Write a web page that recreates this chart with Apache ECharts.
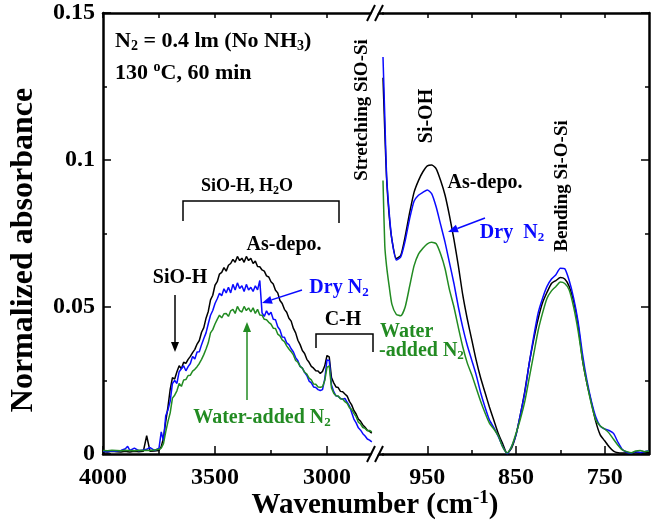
<!DOCTYPE html>
<html>
<head>
<meta charset="utf-8">
<script src="https://cdn.jsdelivr.net/npm/echarts@6/dist/echarts.min.js"></script>
<style>html,body{margin:0;padding:0;background:#fff}#chart{width:651px;height:521px}</style>
</head>
<body>
<div id="chart"></div>
<script>
// left part of the broken axis (high wavenumber)
const waveL = [4000, 3980, 3960, 3940, 3920, 3900, 3890, 3880, 3860, 3840, 3820, 3805, 3790, 3770, 3750,
  3740, 3730, 3720, 3710, 3700, 3690, 3680, 3670, 3660, 3650,
  3640, 3630, 3620, 3610, 3600, 3590, 3580, 3570, 3560, 3550,
  3540, 3530, 3520, 3510, 3500, 3490, 3480, 3470, 3460, 3450,
  3440, 3430, 3420, 3410, 3400, 3390, 3380, 3370, 3360, 3350,
  3340, 3330, 3320, 3310, 3300, 3290, 3280, 3270, 3260, 3250,
  3240, 3230, 3220, 3210, 3200, 3190, 3180, 3170, 3160, 3150,
  3140, 3130, 3120, 3110, 3100, 3090, 3080, 3070, 3060, 3050,
  3040, 3030, 3020, 3010, 3000, 2990, 2980, 2970, 2960, 2950,
  2940, 2930, 2920, 2910, 2900, 2890, 2880, 2870, 2860, 2850,
  2840, 2830, 2820, 2810, 2800];

const asDepoL = [0.0008, 0.0007, 0.0009, 0.0008, 0.0007, 0.0009, 0.0008, 0.0007, 0.0009, 0.0008, 0.0009, 0.0062, 0.0009, 0.0010, 0.0012,
  0.0025, 0.0055, 0.0110, 0.0160, 0.0220, 0.0260, 0.0255, 0.0280, 0.0300, 0.0290,
  0.0312, 0.0308, 0.0322, 0.0332, 0.0345, 0.0356, 0.0374, 0.0386, 0.0414, 0.0430,
  0.0462, 0.0485, 0.0524, 0.0540, 0.0574, 0.0586, 0.0612, 0.0618, 0.0634, 0.0622,
  0.0642, 0.0648, 0.0662, 0.0652, 0.0672, 0.0658, 0.0666, 0.0652, 0.0672, 0.0658,
  0.0666, 0.0648, 0.0656, 0.0638, 0.0637, 0.0626, 0.0622, 0.0606, 0.0602, 0.0586,
  0.0578, 0.0557, 0.0548, 0.0522, 0.0512, 0.0492, 0.0482, 0.0462, 0.0452, 0.0427,
  0.0412, 0.0387, 0.0372, 0.0352, 0.0342, 0.0322, 0.0312, 0.0298, 0.0292, 0.0283,
  0.0282, 0.0274, 0.0281, 0.0300, 0.0335, 0.0330, 0.0260, 0.0242, 0.0228, 0.0226,
  0.0213, 0.0212, 0.0204, 0.0197, 0.0179, 0.0167, 0.0148, 0.0136, 0.0119, 0.0111,
  0.0099, 0.0091, 0.0081, 0.0077, 0.0071];

const dryL = [0.0009, 0.0008, 0.0010, 0.0009, 0.0012, 0.0018, 0.0026, 0.0012, 0.0020, 0.0011, 0.0014, 0.0016, 0.0022, 0.0012, 0.0020,
  0.0075, 0.0045, 0.0130, 0.0150, 0.0180, 0.0240, 0.0250, 0.0240, 0.0280, 0.0290,
  0.0300, 0.0283, 0.0297, 0.0308, 0.0332, 0.0323, 0.0347, 0.0348, 0.0372, 0.0393,
  0.0412, 0.0443, 0.0472, 0.0488, 0.0512, 0.0528, 0.0547, 0.0538, 0.0562, 0.0548,
  0.0567, 0.0548, 0.0577, 0.0558, 0.0582, 0.0563, 0.0572, 0.0553, 0.0577, 0.0558,
  0.0567, 0.0553, 0.0572, 0.0558, 0.0590, 0.0480, 0.0468, 0.0487, 0.0473, 0.0482,
  0.0458, 0.0457, 0.0433, 0.0422, 0.0398, 0.0397, 0.0378, 0.0372, 0.0358, 0.0347,
  0.0328, 0.0317, 0.0298, 0.0292, 0.0278, 0.0267, 0.0248, 0.0242, 0.0228, 0.0226,
  0.0219, 0.0216, 0.0219, 0.0255, 0.0320, 0.0318, 0.0235, 0.0212, 0.0198, 0.0196,
  0.0189, 0.0186, 0.0189, 0.0176, 0.0164, 0.0141, 0.0119, 0.0106, 0.0089, 0.0081,
  0.0069, 0.0061, 0.0051, 0.0047, 0.0041];

const waterL = [0.0012, 0.0011, 0.0013, 0.0012, 0.0011, 0.0013, 0.0012, 0.0012, 0.0011, 0.0013, 0.0012, 0.0013, 0.0012, 0.0014, 0.0016,
  0.0020, 0.0035, 0.0075, 0.0110, 0.0140, 0.0190, 0.0200, 0.0215, 0.0240, 0.0230,
  0.0252, 0.0253, 0.0267, 0.0268, 0.0282, 0.0288, 0.0297, 0.0308, 0.0322, 0.0338,
  0.0357, 0.0378, 0.0412, 0.0423, 0.0442, 0.0458, 0.0472, 0.0463, 0.0477, 0.0478,
  0.0468, 0.0487, 0.0492, 0.0478, 0.0502, 0.0488, 0.0483, 0.0502, 0.0488, 0.0497,
  0.0483, 0.0497, 0.0478, 0.0492, 0.0473, 0.0472, 0.0458, 0.0457, 0.0448, 0.0442,
  0.0428, 0.0427, 0.0408, 0.0402, 0.0388, 0.0382, 0.0368, 0.0357, 0.0348, 0.0337,
  0.0318, 0.0312, 0.0298, 0.0292, 0.0278, 0.0272, 0.0258, 0.0252, 0.0238, 0.0237,
  0.0228, 0.0227, 0.0229, 0.0250, 0.0295, 0.0300, 0.0225, 0.0207, 0.0198, 0.0197,
  0.0188, 0.0187, 0.0178, 0.0172, 0.0158, 0.0152, 0.0138, 0.0127, 0.0108, 0.0102,
  0.0090, 0.0087, 0.0079, 0.0080, 0.0075];

// right part (low wavenumber)
const waveR = [1000, 998, 996, 993, 990,
  985, 980, 975, 970, 965, 960, 955, 950, 945, 940,
  935, 930, 925, 920, 915, 910, 905, 900, 895, 890,
  885, 880, 875, 870, 865, 860, 855, 850, 845, 840,
  835, 830, 825, 820, 815, 810, 805, 800, 795, 790,
  785, 780, 775, 770, 765, 760, 755, 750, 745, 740,
  735, 730, 725, 720, 715, 710, 705, 700];

const asDepoR = [0.128, 0.110, 0.094, 0.081, 0.073,
  0.0665, 0.0675, 0.074, 0.082, 0.089, 0.093, 0.096, 0.098, 0.0983, 0.097,
  0.093, 0.088, 0.081, 0.073, 0.064, 0.054, 0.046, 0.039, 0.032, 0.026,
  0.021, 0.016, 0.0115, 0.007, 0.0035, 0.0002, 0.002, 0.0065, 0.0135, 0.0215,
  0.031, 0.039, 0.046, 0.0515, 0.055, 0.058, 0.059, 0.060, 0.0595, 0.057,
  0.052, 0.044, 0.032, 0.024, 0.0175, 0.011, 0.0065, 0.0045, 0.0025, 0.001,
  0.0004, 0.0003, 0.0004, 0.0003, 0.0004, 0.0003, 0.0004, 0.0004];

const dryR = [0.135, 0.115, 0.095, 0.082, 0.073,
  0.066, 0.067, 0.0725, 0.080, 0.086, 0.088, 0.089, 0.0898, 0.0885, 0.084,
  0.078, 0.072, 0.065, 0.058, 0.050, 0.043, 0.037, 0.032, 0.027, 0.021,
  0.016, 0.0116, 0.009, 0.006, 0.0025, 0.0001, 0.0025, 0.0065, 0.0135, 0.021,
  0.031, 0.040, 0.048, 0.053, 0.057, 0.0595, 0.061, 0.0632, 0.063, 0.059,
  0.053, 0.045, 0.034, 0.025, 0.018, 0.0126, 0.0095, 0.0085, 0.008, 0.007,
  0.004, 0.0015, 0.0006, 0.0003, 0.0008, 0.0005, 0.0008, 0.001];

const waterR = [0.093, 0.071, 0.064, 0.057, 0.051,
  0.0475, 0.047, 0.050, 0.057, 0.064, 0.068, 0.070, 0.0715, 0.072, 0.0715,
  0.068, 0.063, 0.0558, 0.050, 0.043, 0.0364, 0.031, 0.027, 0.0225, 0.018,
  0.014, 0.0105, 0.0085, 0.0062, 0.0024, 0.0003, 0.0025, 0.007, 0.012, 0.018,
  0.026, 0.034, 0.042, 0.048, 0.053, 0.0555, 0.057, 0.0585, 0.058, 0.0558,
  0.050, 0.042, 0.032, 0.024, 0.017, 0.0116, 0.0095, 0.0085, 0.0071, 0.005,
  0.003, 0.0014, 0.0008, 0.0004, 0.001, 0.0012, 0.0008, 0.001];

const majorL = [4000, 3500, 3000];
const minorL = [3750, 3250];
const majorR = [950, 850, 750];
const minorR = [900, 800];

const FONT = 'Liberation Serif';
const BLUE = '#0a0aff';
const GREEN = '#228b22';

function pairs(xs, ys) {
  return xs.map(function (x, i) { return [x, ys[i]]; });
}

function xAx(grid, min, max, pos, ticks, len, opts) {
  opts = opts || {};
  return {
    type: 'value', gridIndex: grid, min: min, max: max, inverse: true, position: pos,
    axisLine: { show: opts.line !== false, lineStyle: { color: '#000', width: 2.5 } },
    axisTick: { show: true, inside: true, length: len, customValues: ticks, lineStyle: { color: '#000', width: 1.5 } },
    axisLabel: opts.labels ? {
      show: true, customValues: ticks, margin: 12, color: '#000',
      fontFamily: FONT, fontWeight: 'bold', fontSize: 24,
      formatter: function (v) { return String(v); }
    } : { show: false },
    splitLine: { show: false }
  };
}

function yAx(grid, pos, labels) {
  return {
    type: 'value', gridIndex: grid, min: 0, max: 0.15, interval: 0.05, position: pos,
    axisLine: { show: true, lineStyle: { color: '#000', width: 2.5 } },
    axisTick: { show: true, inside: true, length: 8, lineStyle: { color: '#000', width: 1.5 } },
    minorTick: { show: true, splitNumber: 2, length: 4, lineStyle: { color: '#000', width: 1.5 } },
    axisLabel: labels ? { show: true, margin: 8, color: '#000', fontFamily: FONT, fontWeight: 'bold', fontSize: 24 } : { show: false },
    splitLine: { show: false },
    minorSplitLine: { show: false }
  };
}

function line(xi, yi, data, color) {
  return {
    type: 'line', xAxisIndex: xi, yAxisIndex: yi, data: data,
    symbol: 'none', smooth: xi === 3 ? 0.2 : false, silent: true,
    lineStyle: { color: color, width: 1.5 }
  };
}

function rich(size, color) {
  return {
    s: { fontFamily: FONT, fontWeight: 'bold', fontSize: Math.round(size * 0.65), fill: color, padding: [Math.round(size * 0.5), 0, 0, 0] },
    p: { fontFamily: FONT, fontWeight: 'bold', fontSize: Math.round(size * 0.65), fill: color, padding: [0, 0, Math.round(size * 0.5), 0] }
  };
}

function txt(x, y, text, size, color, align, rot) {
  color = color || '#000';
  return {
    type: 'text', x: x, y: y, z: 100, rotation: rot || 0,
    style: {
      text: text, fill: color, fontFamily: FONT, fontWeight: 'bold', fontSize: size,
      textAlign: align || 'center', textVerticalAlign: 'middle', rich: rich(size, color)
    }
  };
}

function arrow(x1, y1, x2, y2, color) {
  const a = Math.atan2(y2 - y1, x2 - x1);
  const L = 10, W = 4;
  const bx = x2 - L * Math.cos(a), by = y2 - L * Math.sin(a);
  return [
    { type: 'line', z: 100, shape: { x1: x1, y1: y1, x2: bx, y2: by }, style: { stroke: color, lineWidth: 1.5 } },
    { type: 'polygon', z: 100, shape: { points: [[x2, y2], [bx + W * Math.sin(a), by - W * Math.cos(a)], [bx - W * Math.sin(a), by + W * Math.cos(a)]] }, style: { fill: color } }
  ];
}

function bracket(pts) {
  return { type: 'polyline', z: 100, shape: { points: pts }, style: { stroke: '#000', lineWidth: 1.5, fill: null } };
}

function breakMark(yc) {
  return [
    { type: 'polygon', z: 101, shape: { points: [[368, yc + 8], [376, yc - 8], [382, yc - 8], [374, yc + 8]] }, style: { fill: '#fff' } },
    { type: 'line', z: 102, shape: { x1: 367, y1: yc + 8, x2: 375, y2: yc - 8 }, style: { stroke: '#000', lineWidth: 2 } },
    { type: 'line', z: 102, shape: { x1: 375, y1: yc + 8, x2: 383, y2: yc - 8 }, style: { stroke: '#000', lineWidth: 2 } }
  ];
}

const chart = echarts.init(document.getElementById('chart'));

const graphics = [].concat(
  [
    txt(115, 41, 'N{s|2} = 0.4 lm (No NH{s|3})', 22, '#000', 'left'),
    txt(115, 73, '130 {p|o}C, 60 min', 22, '#000', 'left'),
    txt(247, 186, 'SiO-H, H{s|2}O', 18),
    bracket([[183, 221], [183, 201], [339, 201], [339, 223]]),
    txt(284, 245, 'As-depo.', 20),
    txt(180, 278, 'SiO-H', 20),
    txt(339, 288, 'Dry N{s|2}', 20, BLUE),
    txt(343, 320, 'C-H', 20),
    bracket([[316, 348], [316, 334], [373, 334], [373, 352]]),
    txt(262, 418, 'Water-added N{s|2}', 20, GREEN),
    txt(362, 110, 'Stretching SiO-Si', 19, '#000', 'center', Math.PI / 2),
    txt(427, 116, 'Si-OH', 20, '#000', 'center', Math.PI / 2),
    txt(485, 183, 'As-depo.', 20),
    txt(512, 233, 'Dry  N{s|2}', 20, BLUE),
    txt(380, 332, 'Water', 20, GREEN, 'left'),
    txt(379, 351, '-added N{s|2}', 20, GREEN, 'left'),
    txt(562, 186, 'Bending Si-O-Si', 19, '#000', 'center', Math.PI / 2),
    txt(24, 250, 'Normalized absorbance', 32, '#000', 'center', Math.PI / 2),
    txt(375, 506, 'Wavenumber (cm{p|-1})', 29)
  ],
  arrow(175, 295, 175, 352, '#000'),
  arrow(302, 290, 262, 303, BLUE),
  arrow(247, 400, 247, 322, GREEN),
  arrow(485, 218, 448, 232, BLUE),
  breakMark(13),
  breakMark(454)
);

chart.setOption({
  backgroundColor: '#fff',
  animation: false,
  grid: [
    { left: 103, top: 13, width: 280, height: 441 },
    { left: 383, top: 13, width: 266, height: 441 }
  ],
  xAxis: [
    xAx(0, 2750, 4000, 'bottom', majorL, 8, { labels: true }),
    xAx(0, 2750, 4000, 'bottom', minorL, 4, { line: false }),
    xAx(0, 2750, 4000, 'top', majorL.concat(minorL), 5),
    xAx(1, 700, 1000, 'bottom', majorR, 8, { labels: true }),
    xAx(1, 700, 1000, 'bottom', minorR, 4, { line: false }),
    xAx(1, 700, 1000, 'top', majorR.concat(minorR), 5)
  ],
  yAxis: [
    yAx(0, 'left', true),
    yAx(1, 'right', false)
  ],
  series: [
    line(0, 0, pairs(waveL, asDepoL), '#000'),
    line(0, 0, pairs(waveL, dryL), BLUE),
    line(0, 0, pairs(waveL, waterL), GREEN),
    line(3, 1, pairs(waveR, asDepoR), '#000'),
    line(3, 1, pairs(waveR, dryR), BLUE),
    line(3, 1, pairs(waveR, waterR), GREEN)
  ],
  graphic: { elements: graphics }
});
</script>
</body>
</html>
